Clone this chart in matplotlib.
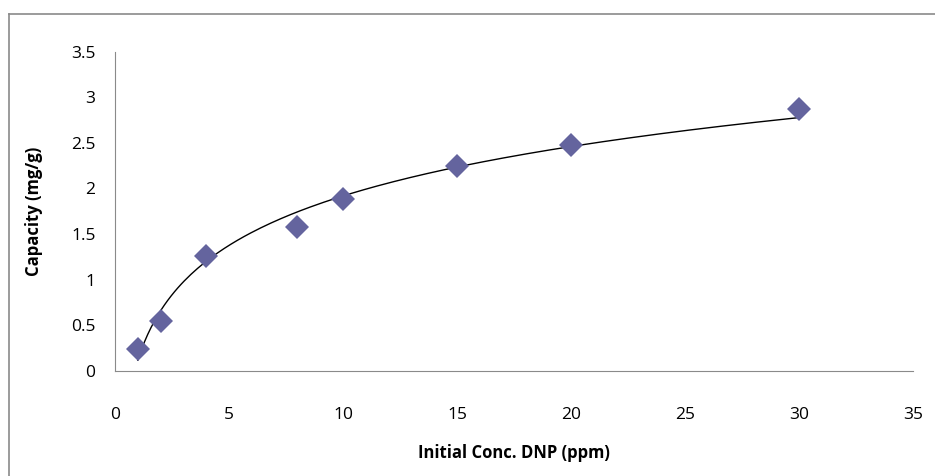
import numpy as np
import matplotlib.pyplot as plt
from matplotlib.lines import Line2D

conc = [1, 2, 4, 8, 10, 15, 20, 30]
capacity = [0.24, 0.545, 1.26, 1.58, 1.88, 2.25, 2.48, 2.87]
xticks = [0, 5, 10, 15, 20, 25, 30, 35]
yticks = [0, 0.5, 1, 1.5, 2, 2.5, 3, 3.5]

plt.rcParams['font.family'] = ['Open Sans', 'DejaVu Sans']

fig = plt.figure(figsize=(9.35, 4.76), dpi=100)
ax = fig.add_axes([0.123, 0.2212, 0.8535, 0.6702])

# logarithmic trendline like the spreadsheet one
a, b = np.polyfit(np.log(conc), capacity, 1)
xs = np.linspace(min(conc), max(conc), 200)
ax.plot(xs, a * np.log(xs) + b, color='black', lw=1)

ax.plot(conc, capacity, 'D', color='#64649e', markersize=12, markeredgewidth=0)

ax.set_xlim(0, 35)
ax.set_ylim(0, 3.5)
ax.set_xticks(xticks)
ax.set_xticklabels([str(t) for t in xticks])
ax.set_yticks(yticks)
ax.set_yticklabels([f'{t:g}' for t in yticks])
ax.tick_params(length=0, labelsize=12.5)
ax.tick_params(axis='x', pad=26)
ax.tick_params(axis='y', pad=14)
for s in ['top', 'right']:
    ax.spines[s].set_visible(False)
for s in ['left', 'bottom']:
    ax.spines[s].set_color('#8a8a8a')

ax.set_xlabel('Initial Conc. DNP (ppm)', fontsize=12, fontweight='bold', labelpad=15)
ax.set_ylabel('Capacity (mg/g)', fontsize=12, fontweight='bold', labelpad=20)

# chart area border (cut off at right and bottom)
fig.add_artist(Line2D([9 / 935, 9 / 935], [0, 1 - 14 / 476], color='#8a8a8a', lw=1.2))
fig.add_artist(Line2D([9 / 935, 1], [1 - 14 / 476, 1 - 14 / 476], color='#8a8a8a', lw=1.2))

fig.savefig('out.png', dpi=100)
